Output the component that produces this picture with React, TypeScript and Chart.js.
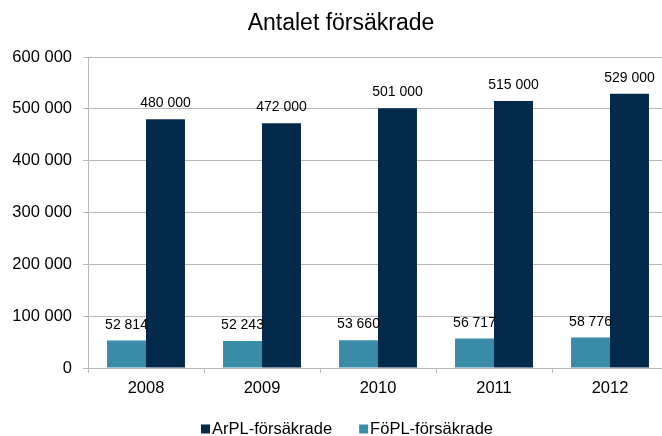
import React, { useEffect, useRef } from "react";
import { Chart, registerables } from "chart.js";

Chart.register(...registerables);

const titleText = "Antalet försäkrade";
const years = ["2008", "2009", "2010", "2011", "2012"];
const arplName = "ArPL-försäkrade";
const foplName = "FöPL-försäkrade";
const arplValues = [480000, 472000, 501000, 515000, 529000];
const foplValues = [52814, 52243, 53660, 56717, 58776];
const yMin = 0;
const yMax = 600000;
const yStep = 100000;

const NAVY = "#03294B";
const TEAL = "#3A8CA8";
const GRID = "#b9b9b9";
const FONT = '"Liberation Sans", Arial, sans-serif';

const fmt = (v: number) =>
  Math.round(v)
    .toString()
    .replace(/\B(?=(\d{3})+(?!\d))/g, " ");

const valueLabels = {
  id: "valueLabels",
  afterDatasetsDraw(chart: any) {
    const ctx = chart.ctx;
    ctx.save();
    ctx.font = `14px ${FONT}`;
    ctx.fillStyle = "#000";
    ctx.textAlign = "center";
    ctx.textBaseline = "alphabetic";
    chart.data.datasets.forEach((ds: any, i: number) => {
      const meta = chart.getDatasetMeta(i);
      meta.data.forEach((el: any, j: number) => {
        ctx.fillText(fmt(ds.data[j]), el.x, el.y - 12);
      });
    });
    ctx.restore();
  },
};

const customTitle = {
  id: "customTitle",
  afterDraw(chart: any) {
    const ctx = chart.ctx;
    ctx.save();
    ctx.font = `23px ${FONT}`;
    ctx.fillStyle = "#000";
    ctx.textAlign = "center";
    ctx.textBaseline = "middle";
    const cx = (chart.chartArea.left + chart.chartArea.right) / 2 - 37;
    ctx.fillText(titleText, cx, 24);
    ctx.restore();
  },
};

const customLegend = {
  id: "customLegend",
  afterDraw(chart: any) {
    const ctx = chart.ctx;
    const items = [
      { text: arplName, color: NAVY },
      { text: foplName, color: TEAL },
    ];
    const box = 9;
    const gapText = 2;
    const gapItems = 27;
    ctx.save();
    ctx.font = `16.5px ${FONT}`;
    const widths = items.map((it) => ctx.measureText(it.text).width);
    const total =
      widths.reduce((a, w) => a + box + gapText + w, 0) + gapItems * (items.length - 1);
    const cx = (chart.chartArea.left + chart.chartArea.right) / 2 - 31;
    const cy = chart.height - 7;
    let x = cx - total / 2;
    items.forEach((it, i) => {
      ctx.fillStyle = it.color;
      ctx.fillRect(x, cy - box / 2, box, box);
      ctx.fillStyle = "#000";
      ctx.textAlign = "left";
      ctx.textBaseline = "middle";
      ctx.fillText(it.text, x + box + gapText, cy);
      x += box + gapText + widths[i] + gapItems;
    });
    ctx.restore();
  },
};

export default function App() {
  const ref = useRef<HTMLCanvasElement | null>(null);

  useEffect(() => {
    if (!ref.current) return;
    const chart = new Chart(ref.current, {
      type: "bar",
      data: {
        labels: years,
        datasets: [
          {
            label: foplName,
            data: foplValues,
            backgroundColor: TEAL,
            categoryPercentage: 0.672,
            barPercentage: 1.0,
          },
          {
            label: arplName,
            data: arplValues,
            backgroundColor: NAVY,
            categoryPercentage: 0.672,
            barPercentage: 1.0,
          },
        ],
      },
      options: {
        responsive: false,
        animation: false,
        devicePixelRatio: 1,
        layout: { padding: { left: 0, right: 4, top: 57, bottom: 38 } },
        plugins: {
          legend: { display: false },
          tooltip: { enabled: false },
          title: { display: false },
        },
        scales: {
          x: {
            grid: {
              display: true,
              drawOnChartArea: false,
              offset: true,
              tickLength: 5,
              color: GRID,
            },
            border: { display: true, color: GRID },
            ticks: {
              color: "#000",
              font: { family: FONT, size: 16.5 },
              padding: 6,
            },
            afterFit: (scale: any) => {
              scale.height = 30;
            },
          },
          y: {
            min: yMin,
            max: yMax,
            grid: { color: GRID, tickLength: 5 },
            border: { display: true, color: GRID },
            ticks: {
              stepSize: yStep,
              color: "#000",
              font: { family: FONT, size: 16.5 },
              padding: 11,
              callback: (v: any) => fmt(Number(v)),
            },
            afterFit: (scale: any) => {
              scale.width = 88;
            },
          },
        },
      },
      plugins: [valueLabels, customTitle, customLegend],
    });
    return () => chart.destroy();
  }, []);

  return (
    <div
      style={{
        position: "fixed",
        left: 0,
        top: 0,
        width: 662,
        height: 436,
        overflow: "hidden",
        background: "#fff",
      }}
    >
      <canvas ref={ref} width={672} height={436} style={{ display: "block" }} />
    </div>
  );
}
